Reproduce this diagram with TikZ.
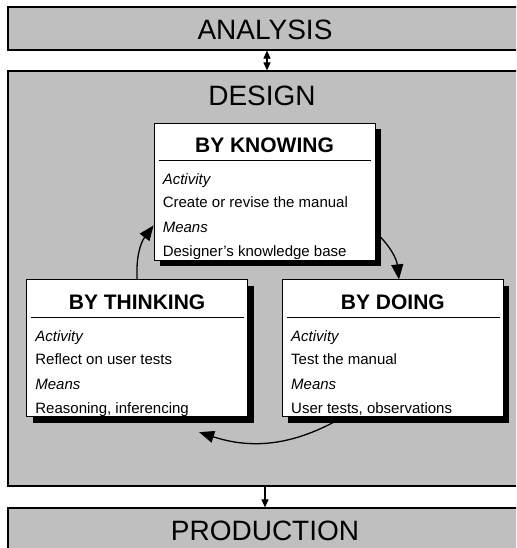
\documentclass[tikz,border=0pt]{standalone}
\usepackage{fontspec}
\setmainfont{Liberation Sans}
\usetikzlibrary{arrows.meta,positioning,shadows}

\tikzset{
  band/.style={draw=black,line width=1.2pt,fill=black!25,minimum width=518pt,inner sep=0pt},
  bandlabel/.style={font=\fontsize{28}{30}\selectfont,anchor=base,inner sep=0pt},
  stage/.style={draw=black,line width=0.8pt,fill=white,minimum width=221pt,minimum height=137pt,inner sep=0pt,
    drop shadow={shadow xshift=6pt,shadow yshift=-6pt,opacity=1,fill=black}},
  stagetitle/.style={font=\fontsize{21}{24}\selectfont\bfseries,anchor=base,inner sep=0pt},
  stageline/.style={font=\fontsize{15}{17}\selectfont,anchor=base west,inner sep=0pt},
  cyclearrow/.style={-{Triangle[length=15pt,width=12pt]},line width=1.3pt},
  flow/.style={line width=1.1pt},
}

\begin{document}
\begin{tikzpicture}[x=1pt,y=1pt]
\useasboundingbox (0,0) rectangle (516,548);
\clip (0,0) rectangle (516,548);
% phase bands
\node[band,minimum height=43pt] (analysis) at (267,519.5) {};
\node[band,minimum height=415pt] (design) at (267,269.5) {};
\node[band,minimum height=52pt] (production) at (267,14) {};
\node[bandlabel] (analysis-lbl) at (265,508) {ANALYSIS};
\node[bandlabel] (design-lbl) at (262,442) {DESIGN};
\node[bandlabel] (production-lbl) at (265,7) {PRODUCTION};
\draw[flow,{Triangle[length=8pt,width=7pt]}-{Triangle[length=8pt,width=7pt]}] (analysis) -- (design);
\draw[flow,-{Triangle[length=8pt,width=7pt]}] ([xshift=-2pt]design.south) -- ([xshift=-2pt]production.north);
% the three design stages
\node[stage] (knowing) at (264.5,356.5) {};
\node[stage,below left=19pt and 16.5pt of knowing.south] (thinking) {};
\node[stage,right=34pt of thinking] (doing) {};
\foreach \s/\t/\a/\m in {knowing/BY KNOWING/Create or revise the manual/Designer's knowledge base,
    thinking/BY THINKING/Reflect on user tests/{Reasoning, inferencing},
    doing/BY DOING/Test the manual/{User tests, observations}}{
  \node[stagetitle] (\s-title) at ([yshift=-30pt]\s.north) {\t};
  \draw[line width=1.5pt] ([shift={(5pt,-38pt)}]\s.north west) -- ([shift={(-4pt,-38pt)}]\s.north east);
  \node[stageline] (\s-act) at ([shift={(9pt,-62pt)}]\s.north west) {\itshape Activity};
  \node[stageline] (\s-do) at ([shift={(9pt,-85pt)}]\s.north west) {\a};
  \node[stageline] (\s-means) at ([shift={(9pt,-110pt)}]\s.north west) {\itshape Means};
  \node[stageline] (\s-how) at ([shift={(9pt,-134pt)}]\s.north west) {\m};
}
% cycle between the stages
\draw[cyclearrow] (thinking.north) to[bend left=20] (knowing.197);
\draw[cyclearrow] (knowing.-20) to[bend left=20] (doing.85);
\draw[cyclearrow] (doing.234) to[bend left=24] ([yshift=-15pt]thinking.-48);
\end{tikzpicture}
\end{document}
